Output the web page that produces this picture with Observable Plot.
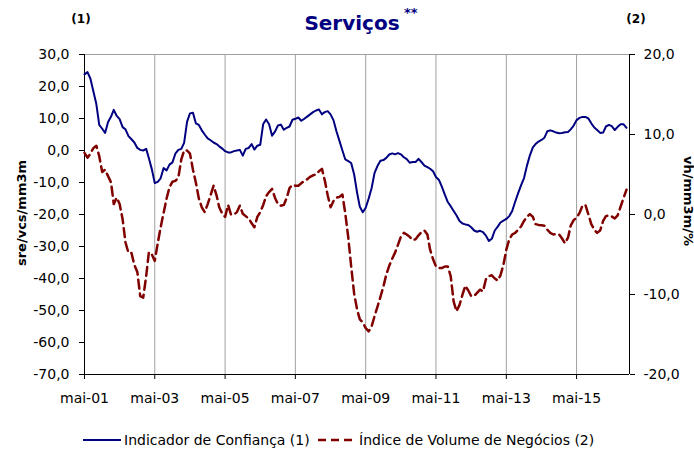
<!DOCTYPE html>
<html><head><meta charset="utf-8">
<script src="https://cdn.jsdelivr.net/npm/d3@7"></script>
<script src="https://cdn.jsdelivr.net/npm/@observablehq/plot@0.6"></script>
<style>
body{margin:0;background:#fff;}
#chart{position:relative;width:694px;height:453px;}
</style></head><body><div id="chart"></div>
<script>
// Monthly series, starting May 2001
const startYear = 2001, startMonthIndex = 4;
const confianca = [
 23.8, 24.5, 22.5, 18.5, 14.5, 8.0, 6.8, 5.5, 8.9, 10.6,
 12.7, 10.8, 9.8, 7.3, 6.6, 4.5, 3.5, 2.5, 0.8, 0.2,
 0, 0.5, -2.4, -5.9, -10.2, -9.8, -8.7, -5.5, -6.2, -4.4,
 -3.7, -1.0, 0.2, 0.5, 2.4, 9.0, 11.6, 11.8, 8.5, 8.0,
 6.3, 5.0, 3.8, 3.2, 2.5, 2.0, 1.3, 0.6, -0.2, -0.6,
 -0.6, -0.2, 0, 0.2, -1.6, 0.5, 0.8, 2.0, 0.3, 1.5,
 1.8, 8.3, 9.7, 8.2, 4.6, 5.9, 7.8, 8.1, 6.5, 7.1,
 7.5, 9.6, 9.9, 10.3, 9.3, 9.9, 10.6, 11.3, 12.0, 12.5,
 12.8, 11.3, 12.0, 12.3, 11.3, 9.4, 6.0, 3.0, 0, -2.8,
 -3.3, -3.9, -7.5, -13.3, -17.6, -19.3, -17.9, -15.0, -11.8, -7.0,
 -4.8, -3.2, -3.0, -2.3, -1.25, -0.9, -1.2, -0.8, -1.2, -2.1,
 -2.7, -3.8, -3.6, -3.6, -2.6, -3.6, -4.7, -5.2, -5.7, -6.5,
 -8.3, -9.2, -11.3, -13.8, -16.1, -17.4, -18.9, -20.3, -22.0, -22.8,
 -23.1, -23.3, -24.0, -25.0, -25.4, -25.1, -25.5, -26.6, -28.3, -27.6,
 -25.0, -23.8, -22.5, -21.9, -21.4, -20.5, -18.9, -16.0, -13.3, -10.9,
 -8.6, -4.8, -1.5, 1.0, 2.0, 2.8, 3.3, 4.0, 6.0, 6.3,
 6.0, 5.6, 5.4, 5.5, 5.7, 5.8, 6.6, 7.8, 9.5, 10.2,
 10.5, 10.5, 10.0, 8.5, 7.2, 6.4, 5.5, 5.6, 7.5, 8.0,
 7.6, 6.4, 7.4, 8.2, 8.2, 7.1
];
const volume = [
 7.7, 7.1, 7.6, 8.3, 8.6, 7.3, 5.3, 5.6, 4.8, 4.0,
 1.3, 2.1, 1.3, -0.6, -3.5, -4.8, -4.8, -6.3, -7.2, -10.2,
 -10.4, -7.7, -4.7, -5.0, -5.8, -3.6, -1.6, 0.2, 2.0, 3.4,
 4.1, 4.2, 4.6, 6.9, 8.0, 8.0, 7.6, 5.6, 4.0, 2.0,
 0.9, 0.3, 1.3, 2.4, 3.6, 2.4, 0.9, 0.1, -0.3, 1.2,
 0.0, 0.0, 0.3, 1.1, 0.1, -0.2, -0.5, -1.1, -1.6, -0.3,
 0.3, 1.2, 2.3, 2.8, 3.2, 2.1, 1.3, 1.1, 1.2, 2.1,
 3.3, 3.7, 3.6, 3.6, 3.9, 4.2, 4.4, 4.7, 4.9, 5.0,
 5.4, 5.7, 4.3, 2.4, 0.9, 1.7, 2.1, 2.2, 2.5, 0.1,
 -2.9, -6.5, -9.9, -11.9, -13.1, -13.5, -14.2, -14.6, -14.0, -12.7,
 -11.5, -10.3, -9.0, -7.5, -6.4, -5.5, -4.8, -3.8, -2.8, -2.3,
 -2.5, -2.8, -3.2, -3.1, -2.6, -2.2, -2.0, -2.5, -4.4, -5.6,
 -6.5, -6.7, -6.7, -6.5, -6.5, -7.7, -10.9, -12.1, -11.3, -10.0,
 -8.9, -9.5, -10.2, -10.2, -9.8, -9.4, -9.6, -8.1, -7.7, -7.6,
 -8.0, -8.25, -7.6, -6.3, -4.4, -3.1, -2.5, -2.3, -1.9, -1.5,
 -0.8, -0.3, 0.05, -0.3, -1.2, -1.3, -1.35, -1.4, -1.9, -2.3,
 -2.5, -2.45, -2.5, -3.0, -3.6, -2.9, -1.4, -0.7, -0.4, 0.2,
 1.1, 1.2, 0.0, -1.2, -1.9, -2.3, -2.0, -0.8, -0.2, -0.1,
 -0.25, -0.5, -0.1, 1.0, 2.1, 3.1
];
const xTickLabels = ["mai-01","mai-03","mai-05","mai-07","mai-09","mai-11","mai-13","mai-15"];
const leftTicks = [-70,-60,-50,-40,-30,-20,-10,0,10,20,30];
const rightTicks = [-20,-10,0,10,20];
const titleText = "Serviços";
const seriesNames = ["Indicador de Confiança (1)", "Índice de Volume de Negócios (2)"];
const leftLabel = "sre/vcs/mm3m";
const rightLabel = "vh/mm3m/%";

const start = new Date(Date.UTC(startYear, startMonthIndex, 1));
const data = confianca.map((v, i) => ({date: d3.utcMonth.offset(start, i), conf: v, vol: volume[i]}));
const xTicks = xTickLabels.map((_, i) => d3.utcYear.offset(start, 2 * i));
const x0 = start, x1 = d3.utcMonth.offset(start, 186);
// right axis [-20,20] maps onto left axis [-70,30]
const toLeft = r => r * 2.5 - 20;
const fromLeft = l => (l + 20) / 2.5;
const fmt = v => (Math.abs(v) < 1e-9 ? 0 : v).toFixed(1).replace(".", ",");
const FONT = "DejaVu Sans";

const plot = Plot.plot({
  width: 694, height: 453,
  marginLeft: 84, marginRight: 65, marginTop: 54, marginBottom: 79,
  style: {fontFamily: FONT, fontSize: "14px", color: "#000", background: "#fff", overflow: "visible"},
  x: {type: "utc", domain: [x0, x1]},
  y: {domain: [-70, 30]},
  marks: [
    Plot.gridX(xTicks, {stroke: "#a0a0a0", strokeOpacity: 1, strokeWidth: 1}),
    Plot.ruleY([30], {stroke: "#a0a0a0", strokeWidth: 1}),
    Plot.axisX({ticks: xTicks, tickFormat: d => xTickLabels[xTicks.findIndex(t => +t === +d)], tickSize: 5, tickPadding: 14, label: null, fontSize: 14}),
    Plot.axisY({ticks: leftTicks, anchor: "left", tickFormat: fmt, tickSize: 5, tickPadding: 10, label: null, fontSize: 14}),
    Plot.axisY({ticks: rightTicks.map(toLeft), anchor: "right", tickFormat: d => fmt(fromLeft(d)), tickSize: 5, tickPadding: 9, label: null, fontSize: 14}),
    Plot.ruleX([x0], {stroke: "#000"}),
    Plot.ruleX([x1], {stroke: "#000"}),
    Plot.ruleY([-70], {stroke: "#000"}),
    Plot.lineY(data, {x: "date", y: d => toLeft(d.vol), stroke: "#800000", strokeWidth: 2.5, strokeDasharray: "9,5"}),
    Plot.lineY(data, {x: "date", y: "conf", stroke: "#000080", strokeWidth: 2})
  ]
});

const svg = d3.select(plot);
const t = svg.append("g").attr("font-family", FONT);
t.append("text").attr("x", 352).attr("y", 30).attr("text-anchor", "middle")
  .attr("font-size", 20).attr("font-weight", "bold").attr("fill", "#000080").text(titleText);
t.append("text").attr("x", 404).attr("y", 17).attr("text-anchor", "start")
  .attr("font-size", 13).attr("font-weight", "bold").attr("fill", "#000080").text("**");
t.append("text").attr("x", 81).attr("y", 23).attr("text-anchor", "middle")
  .attr("font-size", 12).attr("font-weight", "bold").text("(1)");
t.append("text").attr("x", 636).attr("y", 23).attr("text-anchor", "middle")
  .attr("font-size", 12).attr("font-weight", "bold").text("(2)");
t.append("text").attr("transform", "translate(21,213) rotate(-90)").attr("text-anchor", "middle")
  .attr("dominant-baseline", "central").attr("font-size", 13).attr("font-weight", "bold").text(leftLabel);
t.append("text").attr("transform", "translate(688,201) rotate(90)").attr("text-anchor", "middle")
  .attr("dominant-baseline", "central").attr("font-size", 13).attr("font-weight", "bold").text(rightLabel);

// legend
const lg = svg.append("g").attr("font-family", FONT).attr("font-size", 14).attr("text-anchor", "start");
lg.append("line").attr("x1", 83).attr("x2", 121).attr("y1", 440).attr("y2", 440).attr("stroke", "#000080").attr("stroke-width", 2);
lg.append("text").attr("x", 124).attr("y", 440).attr("text-anchor", "start").attr("dominant-baseline", "central").text(seriesNames[0]);
lg.append("line").attr("x1", 318).attr("x2", 356).attr("y1", 440).attr("y2", 440).attr("stroke", "#800000").attr("stroke-width", 2.5).attr("stroke-dasharray", "8,5");
lg.append("text").attr("x", 359).attr("y", 440).attr("text-anchor", "start").attr("dominant-baseline", "central").text(seriesNames[1]);

document.getElementById("chart").appendChild(plot);
</script></body></html>
